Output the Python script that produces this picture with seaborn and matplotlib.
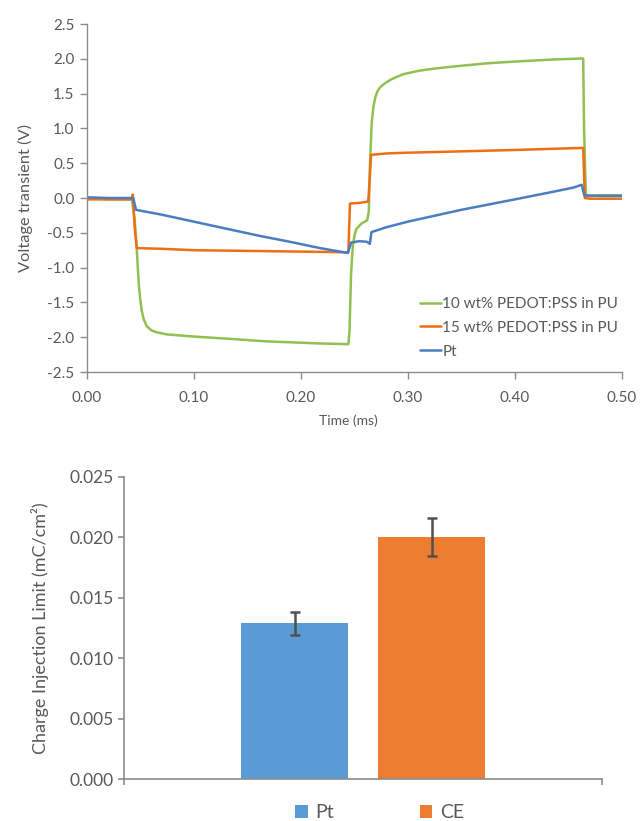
import matplotlib
matplotlib.use("Agg")
import matplotlib.pyplot as plt
import seaborn as sns
import pandas as pd
import numpy as np

# ---------------- data: voltage transients (time in ms, voltage in V) ----------------
t_pedot10 = [0.0, 0.02, 0.042, 0.0445, 0.0465, 0.0475, 0.0485, 0.0497, 0.0512, 0.053,
             0.0558, 0.060, 0.0652, 0.075, 0.087, 0.0991, 0.13, 0.168, 0.2179, 0.2445,
             0.2455, 0.2469, 0.2485, 0.2500, 0.2517, 0.2564, 0.262, 0.2635, 0.2645, 0.2662,
             0.2678, 0.2695, 0.2715, 0.2740, 0.2787, 0.2840, 0.2896, 0.2960, 0.311, 0.325,
             0.343, 0.374, 0.40, 0.436, 0.4640, 0.4648, 0.4665, 0.48, 0.5]
v_pedot10 = [0.0, -0.02, -0.02, -0.30, -0.72, -1.00, -1.25, -1.45, -1.62, -1.74,
             -1.84, -1.90, -1.93, -1.96, -1.975, -1.99, -2.02, -2.06, -2.09, -2.10,
             -1.90, -1.10, -0.70, -0.55, -0.45, -0.37, -0.32, -0.20, 0.45, 1.07,
             1.31, 1.44, 1.53, 1.59, 1.65, 1.70, 1.74, 1.78, 1.83, 1.86,
             1.89, 1.935, 1.96, 1.99, 2.005, 1.00, 0.02, 0.04, 0.04]

t_pedot15 = [0.0, 0.042, 0.0428, 0.0445, 0.0465, 0.07, 0.1, 0.15, 0.2, 0.2444, 0.2459,
             0.255, 0.263, 0.2645, 0.2656, 0.28, 0.297, 0.35, 0.40, 0.4640, 0.4655, 0.47, 0.5]
v_pedot15 = [-0.02, -0.02, 0.05, -0.40, -0.72, -0.73, -0.75, -0.76, -0.77, -0.78, -0.08,
             -0.07, -0.05, 0.30, 0.62, 0.64, 0.65, 0.67, 0.69, 0.72, 0.00, -0.01, -0.01]

t_pt = [0.0, 0.02, 0.0433, 0.0458, 0.07, 0.10, 0.13, 0.16, 0.19, 0.2179, 0.2438,
        0.247, 0.255, 0.262, 0.2645, 0.2660, 0.28, 0.30, 0.35, 0.40,
        0.436, 0.455, 0.4626, 0.4650, 0.48, 0.5]
v_pt = [0.01, 0.0, 0.0, -0.17, -0.24, -0.34, -0.44, -0.54, -0.63, -0.72, -0.79,
        -0.64, -0.62, -0.63, -0.66, -0.49, -0.42, -0.34, -0.17, -0.02,
        0.09, 0.15, 0.19, 0.04, 0.03, 0.03]

series_labels = ["10 wt% PEDOT:PSS in PU", "15 wt% PEDOT:PSS in PU", "Pt"]
line_colors = ["#92C050", "#EE6E14", "#4A7EC2"]

# ---------------- data: charge injection limit ----------------
materials = ["Pt", "CE"]
cil_mean = [0.01288, 0.02002]
cil_err = [0.00096, 0.00155]
bar_colors = ["#5B9BD5", "#ED7D31"]

y_ticks_top = [-2.5, -2.0, -1.5, -1.0, -0.5, 0.0, 0.5, 1.0, 1.5, 2.0, 2.5]
x_ticks_top = [0.0, 0.1, 0.2, 0.3, 0.4, 0.5]
y_ticks_bot = [0.000, 0.005, 0.010, 0.015, 0.020, 0.025]

# ---------------- style ----------------
sns.set_theme(style="white")
plt.rcParams["font.family"] = ["Lato", "DejaVu Sans"]
plt.rcParams["axes.unicode_minus"] = False
TXT = "#595959"
AX = "#8C8C8C"

W, H = 640, 821
fig = plt.figure(figsize=(W / 100, H / 100), dpi=100)
fig.patch.set_facecolor("white")

def fr(x0, y0, x1, y1):
    return [x0 / W, 1 - y1 / H, (x1 - x0) / W, (y1 - y0) / H]

# ---------------- top: voltage transients ----------------
ax1 = fig.add_axes(fr(87, 24, 621.7, 372))
frames = []
for t, v, lab in zip([t_pedot10, t_pedot15, t_pt], [v_pedot10, v_pedot15, v_pt], series_labels):
    frames.append(pd.DataFrame({"time": t, "voltage": v, "series": lab}))
df_lines = pd.concat(frames, ignore_index=True)
for lab, col in zip(series_labels, line_colors):
    sub = df_lines[df_lines["series"] == lab]
    sns.lineplot(data=sub, x="time", y="voltage", ax=ax1, color=col, lw=1.8,
                 estimator=None, sort=False, label=lab)

ax1.set_xlim(0, 0.5)
ax1.set_ylim(-2.5, 2.5)
ax1.set_yticks(y_ticks_top)
ax1.set_yticklabels([f"{v:.1f}" for v in y_ticks_top])
ax1.set_xticks(x_ticks_top)
ax1.set_xticklabels([f"{v:.2f}" for v in x_ticks_top])
ax1.set_xlabel("")
ax1.set_ylabel("")
for s in ["top", "right"]:
    ax1.spines[s].set_visible(False)
for s in ["left", "bottom"]:
    ax1.spines[s].set_color(AX)
    ax1.spines[s].set_linewidth(1.0)
ax1.tick_params(axis="both", which="major", direction="out", length=5, width=1.0,
                color=AX, labelcolor=TXT, labelsize=11, left=True, bottom=True)
ax1.tick_params(axis="x", pad=9)
ax1.tick_params(axis="y", pad=4)
ax1.set_facecolor("white")

fig.text(25 / W, 1 - 198 / H, "Voltage transient (V)", rotation=90, ha="center",
         va="center", color=TXT, fontsize=11.8)
fig.text(348 / W, 1 - 421 / H, "Time (ms)", ha="center", va="center", color=TXT, fontsize=10)

leg1 = ax1.legend(loc="upper left", bbox_to_anchor=(420 / W, 1 - 297 / H),
                  bbox_transform=fig.transFigure, frameon=False, fontsize=11,
                  handlelength=1.35, handletextpad=0.1, labelspacing=0.64, borderpad=0,
                  borderaxespad=0)
for txt in leg1.get_texts():
    txt.set_color(TXT)

# ---------------- bottom: charge injection limit ----------------
ax2 = fig.add_axes(fr(124.3, 476.7, 602.3, 779))
df_bar = pd.DataFrame({"group": ["all", "all"], "material": materials, "cil": cil_mean})
sns.barplot(data=df_bar, x="group", y="cil", hue="material", palette=bar_colors,
            width=0.574, gap=0.22, errorbar=None, ax=ax2, linewidth=0, saturation=1)
bars = [p for p in ax2.patches if p.get_height() > 0]
bars = sorted(bars, key=lambda p: p.get_x())
xc = [p.get_x() + p.get_width() / 2 for p in bars]
ax2.errorbar(xc, cil_mean, yerr=cil_err, fmt="none", ecolor="#505050", elinewidth=1.8,
             capsize=3.5, capthick=1.8, zorder=5)

ax2.set_xlim(-0.5, 0.5)
ax2.set_ylim(0, 0.025)
ax2.set_yticks(y_ticks_bot)
ax2.set_yticklabels([f"{v:.3f}" for v in y_ticks_bot])
ax2.set_xticks([-0.5, 0.5])
ax2.set_xticklabels([])
ax2.set_xlabel("")
ax2.set_ylabel("")
for s in ["top", "right"]:
    ax2.spines[s].set_visible(False)
for s in ["left", "bottom"]:
    ax2.spines[s].set_color(AX)
    ax2.spines[s].set_linewidth(1.2)
ax2.tick_params(axis="both", direction="out", length=4.5, width=1.2, color=AX,
                labelcolor=TXT, labelsize=12.5, left=True, bottom=True)
ax2.tick_params(axis="y", pad=3)
ax2.set_facecolor("white")

fig.text(40 / W, 1 - 628 / H, "Charge Injection Limit (mC/cm²)", rotation=90, ha="center",
         va="center", color=TXT, fontsize=13)

handles, labels = ax2.get_legend_handles_labels()
ax2.get_legend().remove()
leg2 = fig.legend(handles, labels, loc="upper left", bbox_to_anchor=(295 / W, 1 - 804 / H),
                  frameon=False, fontsize=14, ncol=2, handlelength=0.65, handleheight=0.65,
                  handletextpad=0.4, columnspacing=4.4, borderpad=0, borderaxespad=0)
for txt in leg2.get_texts():
    txt.set_color(TXT)

fig.savefig("out.png", dpi=100, facecolor="white")
